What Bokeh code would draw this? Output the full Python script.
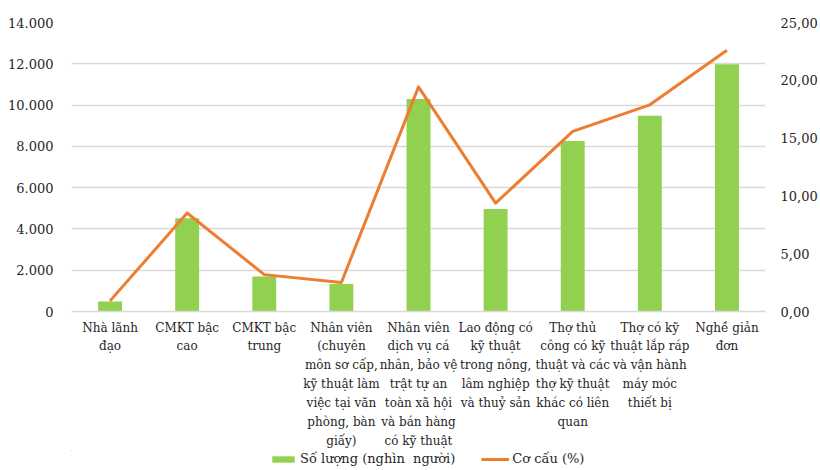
from bokeh.plotting import figure
from bokeh.layouts import column
from bokeh.models import (Range1d, LinearAxis, FixedTicker, Legend, LegendItem,
                          ColumnDataSource)
from bokeh.embed import file_html
from bokeh.resources import INLINE

# Occupation groups (wrapped labels), employed persons (thousand) and share (%)
categories = [
    "Nhà lãnh\nđạo",
    "CMKT bậc\ncao",
    "CMKT bậc\ntrung",
    "Nhân viên\n(chuyên\nmôn sơ cấp,\nkỹ thuật làm\nviệc tại văn\nphòng, bàn\ngiấy)",
    "Nhân viên\ndịch vụ cá\nnhân, bảo vệ\ntrật tự an\ntoàn xã hội\nvà bán hàng\ncó kỹ thuật",
    "Lao động có\nkỹ thuật\ntrong nông,\nlâm nghiệp\nvà thuỷ sản",
    "Thợ thủ\ncông có kỹ\nthuật và các\nthợ kỹ thuật\nkhác có liên\nquan",
    "Thợ có kỹ\nthuật lắp ráp\nvà vận hành\nmáy móc\nthiết bị",
    "Nghề giản\nđơn",
]
so_luong = [490, 4520, 1690, 1330, 10300, 4970, 8260, 9480, 11980]
co_cau = [0.92, 8.52, 3.19, 2.51, 19.43, 9.37, 15.58, 17.88, 22.60]

left_ticks = [0, 2000, 4000, 6000, 8000, 10000, 12000, 14000]
left_labels = ["0", "2.000", "4.000", "6.000", "8.000", "10.000", "12.000", "14.000"]
right_ticks = [0, 5, 10, 15, 20, 25]
right_labels = ["0,00", "5,00", "10,00", "15,00", "20,00", "25,00"]

FONT = "DejaVu Serif"
TEXT = "#262626"
GRID = "#D9D9D9"
GREEN = "#92D050"
ORANGE = "#ED7D31"

xs = list(range(len(categories)))
src = ColumnDataSource(dict(x=xs, n=so_luong, pct=co_cau))

bar_style = dict(fill_color=GREEN, line_color=None)
line_style = dict(line_color=ORANGE, line_width=3)

# ---- main chart -------------------------------------------------------------
p = figure(width=820, height=450, output_backend="svg", toolbar_location=None,
           x_range=Range1d(-0.5, len(categories) - 0.5),
           y_range=Range1d(0, 14000),
           min_border_left=71, min_border_right=45,
           min_border_top=22, min_border_bottom=133)
p.outline_line_color = None
p.extra_y_ranges = {"pct": Range1d(0, 25)}

p.vbar(x="x", top="n", width=0.31, source=src, **bar_style)
p.line(x="x", y="pct", source=src, y_range_name="pct",
       line_join="round", **line_style)

# Grid
p.xgrid.grid_line_color = None
p.ygrid.grid_line_color = GRID
p.ygrid.grid_line_width = 1.5
p.ygrid.ticker = FixedTicker(ticks=left_ticks)

# Left axis
ya = p.yaxis[0]
ya.ticker = FixedTicker(ticks=left_ticks)
ya.major_label_overrides = {t: l for t, l in zip(left_ticks, left_labels)}
ya.axis_line_color = None
ya.major_tick_line_color = None
ya.minor_tick_line_color = None
ya.major_label_standoff = 12

# Right axis
ra = LinearAxis(y_range_name="pct", ticker=FixedTicker(ticks=right_ticks))
ra.major_label_overrides = {t: l for t, l in zip(right_ticks, right_labels)}
ra.axis_line_color = None
ra.major_tick_line_color = None
ra.minor_tick_line_color = None
ra.major_label_standoff = 9
p.add_layout(ra, "right")

# Bottom axis with wrapped category names
xa = p.xaxis[0]
xa.ticker = FixedTicker(ticks=xs)
xa.major_label_overrides = {i: c for i, c in enumerate(categories)}
xa.axis_line_color = GRID
xa.axis_line_width = 1.5
xa.major_tick_line_color = None
xa.minor_tick_line_color = None
xa.major_label_standoff = 3

for ax in (ya, ra, xa):
    ax.major_label_text_font = FONT
    ax.major_label_text_color = TEXT
ya.major_label_text_font_size = "13px"
ra.major_label_text_font_size = "13px"
xa.major_label_text_font_size = "12px"
xa.major_label_text_line_height = 1.35

# ---- legend strip under the chart ------------------------------------------
# Same series, but the strip's ranges lie away from the data so only the key shows.
lg = figure(width=820, height=20, output_backend="svg", toolbar_location=None,
            x_range=Range1d(100, 101), y_range=Range1d(-2, -1),
            min_border=0, min_border_left=0, min_border_right=0,
            min_border_top=0, min_border_bottom=0,
            x_axis_type=None, y_axis_type=None)
lg.outline_line_color = None
lg.grid.visible = False
key_bar = lg.vbar(x="x", top="n", width=0.31, source=src, **bar_style)
key_line = lg.line(x="x", y="pct", source=src, **line_style)

legend = Legend(items=[LegendItem(label="Số lượng (nghìn  người)", renderers=[key_bar]),
                       LegendItem(label="Cơ cấu (%)", renderers=[key_line])],
                orientation="horizontal", location=(198, 4),
                label_text_font=FONT, label_text_font_size="13px",
                label_text_color=TEXT, glyph_width=28, glyph_height=8,
                spacing=26, border_line_color=None, background_fill_alpha=0,
                padding=0, margin=0, label_standoff=3)
lg.add_layout(legend, "center")

open("out.html", "w").write(file_html(column(p, lg, spacing=0), INLINE))
